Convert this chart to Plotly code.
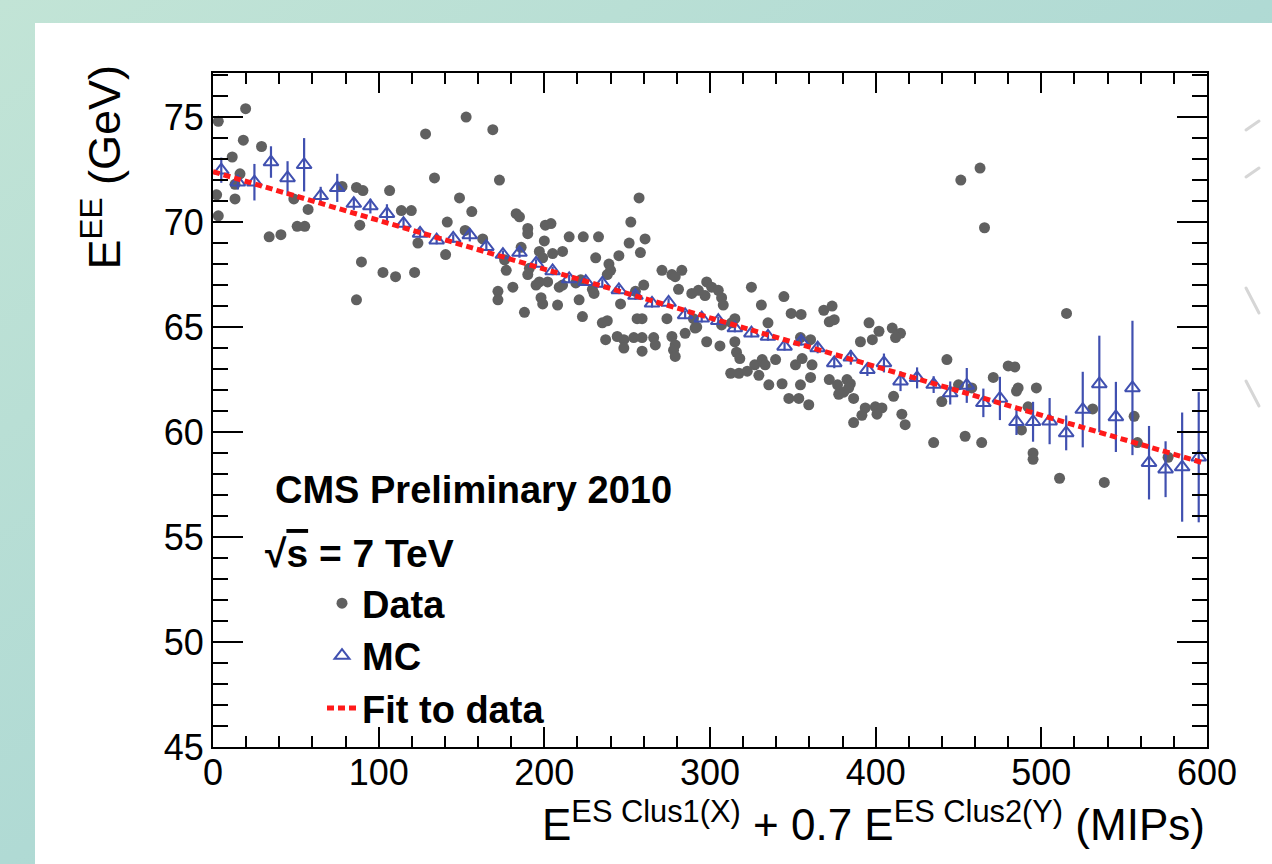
import base64
import plotly.graph_objects as go

# ---------------- data ----------------
data_x = [3.2, 19.7, 11.6, 18.3, 29.3, 2.2, 3.2, 13.3, 16.3, 13.3, 33.9, 41, 50.8, 55.4, 48.8, 57.4,
          77.9, 86.6, 90.5, 88.6, 89.6, 86.6,
          106.6, 102.6, 110.2, 121.7, 113.7, 119.7, 128.3, 133.7, 152.8, 168.9, 172.9, 140.4, 141.4,
          148.8, 156.2, 152.2, 162.8, 123.7, 181, 172, 172, 188, 183, 185, 190, 190, 176, 177, 186,
          191, 190, 195, 197, 198, 199,
          200.6, 204, 215, 223.5, 232.7, 257.2, 252.2, 260.8, 251.2, 258, 200, 197, 199, 211, 205,
          231, 245, 239, 240, 238, 202, 209, 211, 208, 221, 223, 229, 230, 219, 222, 246, 255, 260,
          256, 259, 235, 238, 237, 244, 248, 254, 259, 266, 248, 259, 267, 271, 277, 283, 281, 289,
          274, 277, 285, 279, 279, 278, 279, 292, 298, 301, 305, 307, 308, 297, 293, 298, 306, 291, 290,
          325, 327, 315, 313, 307, 344.6, 331, 349, 355, 368.7, 373.7, 372, 375, 396, 402, 398, 390.8,
          410, 415, 412, 335, 315, 316, 318, 354.6, 360.7, 331.5, 333.3, 339.6, 312.5, 317.5, 322.5,
          329.5, 335.5, 343.5, 351.6, 355.6, 361.6, 360.7, 354.6, 347.6, 353.6, 359.6, 372, 377, 380.7,
          382.7, 384.7, 383.7, 386.7, 377.7, 393.7, 391.7, 386.7, 399.8, 403.8, 400.8,
          415.8, 417.8, 410.8, 439.9, 443, 435, 454, 464, 450, 458, 471, 480, 484, 486, 485, 497, 492,
          488, 495, 495, 451.4, 463, 465.7,
          515.2, 511, 531, 538, 556, 558, 576.5]
data_y = [74.8, 75.4, 73.1, 73.9, 73.6, 71.3, 70.3, 71.1, 72.3, 71.8, 69.3, 69.4, 69.8, 69.8, 71.1, 70.6,
          71.7, 71.65, 71.5, 69.85, 68.1, 66.3,
          71.5, 67.6, 67.4, 67.6, 70.55, 70.55, 74.2, 72.1, 75.0, 74.4, 72.0, 68.45, 70.0,
          71.15, 70.5, 69.6, 69.2, 69.0, 66.9, 66.7, 66.3, 65.7, 70.4, 70.25, 69.7, 69.45, 68.2, 67.7, 68.8,
          67.8, 67.5, 67.0, 67.15, 66.4, 66.1,
          69.85, 69.93, 69.3, 69.3, 69.3, 71.15, 70.0, 69.2, 69.0, 68.55, 69.1, 68.6, 68.3, 68.6, 68.5,
          68.3, 68.4, 68.0, 67.7, 67.5, 67.15, 66.9, 67.0, 66.05, 66.3, 65.5, 66.8, 66.6, 67.1, 67.25, 66.1, 66.7, 67.0,
          65.4, 65.4, 65.2, 65.3, 64.4, 64.55, 64.4, 64.5, 64.5, 64.5, 64.0, 63.85, 64.15, 67.7, 67.5, 67.7, 66.8, 66.6,
          65.4, 64.55, 64.7, 64.15, 67.4, 63.9, 63.6, 65.0, 67.15, 66.9, 66.75, 66.4, 66.05, 66.5, 66.75, 64.3, 64.1, 64.95, 65.4,
          66.9, 63.2, 65.4, 65.2, 65.1, 66.45, 66.05, 65.65, 65.6, 65.8, 66.0, 65.25, 65.35, 65.2, 64.8, 64.4, 64.3,
          64.95, 64.7, 64.5, 65.2, 64.3, 63.8, 63.5, 64.5, 64.4, 63.45, 63.2, 63.45, 62.8, 62.8, 62.9,
          62.7, 62.25, 62.3, 63.2, 63.5, 63.2, 62.6, 62.25, 61.6, 61.6, 61.3, 62.5, 62.25, 61.9,
          62.5, 62.3, 62.1, 61.6, 61.8, 61.15, 60.8, 60.45, 61.2, 61.15, 60.85,
          60.85, 60.35, 61.7, 61.45, 63.45, 59.5, 59.8, 59.5, 62.25, 62.1, 62.6, 63.15, 63.1, 62.1, 61.95, 62.1, 61.2,
          60.1, 59.0, 58.7, 72.0, 72.57, 69.73,
          65.65, 57.8, 61.1, 57.6, 60.75, 59.5, 58.8]

mc_x = [5, 15, 25, 35, 45, 55, 65, 75, 85, 95, 105, 115, 125, 135, 145, 155, 165, 175, 185, 195,
        205, 215, 225, 235, 245, 255, 265, 275, 285, 295, 305, 315, 325, 335, 345, 355, 365, 375, 385, 395,
        405, 415, 425, 435, 445, 455, 465, 475, 485, 495, 505, 515, 525, 535, 545, 555, 565, 575, 585, 595]
mc_y = [72.47, 71.9, 71.9, 72.86, 72.1, 72.73, 71.25, 71.63, 70.88, 70.76, 70.4, 69.93, 69.46, 69.14, 69.22,
        69.38, 68.83, 68.45, 68.55, 68.03, 67.67, 67.29, 67.16, 67.08, 66.77, 66.5, 66.13, 66.17, 65.58, 65.42,
        65.30, 64.95, 64.71, 64.55, 64.08, 64.32, 64.0, 63.29, 63.56, 62.97, 63.29, 62.42, 62.58, 62.26, 61.86,
        62.22, 61.39, 61.6, 60.49, 60.49, 60.52, 59.96, 61.07, 62.29, 60.72, 62.1, 58.54, 58.23, 58.33, 58.8]
mc_err = [0.6, 0.35, 0.87, 0.75, 0.8, 1.27, 0.43, 0.67, 0.3, 0.35, 0.45, 0.25, 0.2, 0.2, 0.2,
          0.3, 0.2, 0.2, 0.25, 0.2, 0.2, 0.2, 0.2, 0.2, 0.2, 0.2, 0.2, 0.2, 0.2, 0.2,
          0.2, 0.2, 0.2, 0.2, 0.2, 0.2, 0.25, 0.25, 0.35, 0.3, 0.45, 0.47, 0.5, 0.4, 0.55,
          0.83, 0.68, 1.03, 0.63, 0.95, 1.1, 0.83, 1.8, 2.3, 1.67, 3.2, 1.75, 1.33, 2.6, 3.1]

fit_x = [0, 597]
fit_y = [72.4, 58.55]

x_ticks = [0, 100, 200, 300, 400, 500, 600]
y_ticks = [45, 50, 55, 60, 65, 70, 75]

FONT = "Liberation Sans, Arial, Helvetica, sans-serif"

# ---------------- background decoration (gradient + white panel) ----------------
svg = """<svg xmlns='http://www.w3.org/2000/svg' width='1272' height='864' viewBox='0 0 1272 864'>
<defs><linearGradient id='g' x1='0' y1='0' x2='1' y2='1'>
<stop offset='0' stop-color='#c2e4d6'/><stop offset='0.5' stop-color='#b0dad4'/><stop offset='1' stop-color='#a3d2d2'/>
</linearGradient></defs>
<rect x='0' y='0' width='1272' height='864' fill='url(#g)'/>
<rect x='35' y='23' width='1237' height='841' fill='#ffffff'/>
<g stroke='#d6d6d6' stroke-width='3' stroke-linecap='round'>
<line x1='1246' y1='130' x2='1259' y2='121'/>
<line x1='1246' y1='177' x2='1259' y2='168'/>
<line x1='1246' y1='288' x2='1259' y2='313'/>
<line x1='1246' y1='381' x2='1259' y2='406'/>
</g></svg>"""
bg_src = "data:image/svg+xml;base64," + base64.b64encode(svg.encode()).decode()

L, R, T, B = 213, 65, 73, 117
W, H = 1272, 864
PW, PH = W - L - R, H - T - B

fig = go.Figure()

fig.add_trace(go.Scatter(
    x=data_x, y=data_y, mode="markers", name="Data",
    marker=dict(symbol="circle", size=11, color="#606060"),
    legendgroup="a",
))
fig.add_trace(go.Scatter(
    x=mc_x, y=mc_y, mode="markers", name="MC",
    marker=dict(symbol="triangle-up-open", size=13, color="#4050b0", line=dict(width=2, color="#4050b0")),
    error_y=dict(type="data", array=mc_err, visible=True, color="#4050b0", thickness=2.2, width=0),
    legendgroup="b",
))
fig.add_trace(go.Scatter(
    x=fit_x, y=fit_y, mode="lines", name="Fit to data",
    line=dict(color="#ff1a1a", width=5, dash="7px,4px"),
    legendgroup="c",
))

axis_common = dict(
    showline=True, linewidth=2, linecolor="black", mirror="ticks",
    ticks="inside", tickwidth=2, tickcolor="black",
    showgrid=False, zeroline=False,
    tickfont=dict(family=FONT, size=36, color="black"),
)

fig.update_xaxes(
    range=[0, 600], tickmode="array", tickvals=x_ticks, ticktext=[str(v) for v in x_ticks],
    ticklen=20,
    minor=dict(dtick=20, tick0=0, ticklen=11, tickwidth=2, tickcolor="black", ticks="inside"),
    ticklabelstandoff=-7,
    **axis_common,
)
fig.update_yaxes(
    range=[45, 77.1], tickmode="array", tickvals=y_ticks, ticktext=[str(v) for v in y_ticks],
    ticklen=30,
    minor=dict(dtick=1, tick0=45, ticklen=15, tickwidth=2, tickcolor="black", ticks="inside"),
    ticklabelstandoff=0,
    **axis_common,
)

def px(xp):
    return (xp - L) / PW

def py(yp):
    return (H - B - yp) / PH

annotations = [
    dict(text="E<sup>ES Clus1(X)</sup> + 0.7 E<sup>ES Clus2(Y)</sup> (MIPs)",
         xref="paper", yref="paper", x=1.0, y=py(851), xanchor="right", yanchor="bottom",
         showarrow=False, font=dict(family=FONT, size=44, color="black")),
    dict(text="E<sup>EE</sup> (GeV)", textangle=-90,
         xref="paper", yref="paper", x=px(101), y=py(63), xanchor="center", yanchor="top",
         showarrow=False, font=dict(family=FONT, size=45, color="black")),
    dict(text="<b>CMS Preliminary 2010</b>",
         xref="paper", yref="paper", x=px(273), y=py(490), xanchor="left", yanchor="middle",
         showarrow=False, font=dict(family=FONT, size=38, color="black")),
    dict(text="<b>√<span style='text-decoration:overline'>s</span> = 7 TeV</b>",
         xref="paper", yref="paper", x=px(263), y=py(553), xanchor="left", yanchor="middle",
         showarrow=False, font=dict(family=FONT, size=39, color="black")),
]

fig.update_layout(
    width=W, height=H,
    margin=dict(l=L, r=R, t=T, b=B, pad=0),
    paper_bgcolor="#b5dcd4", plot_bgcolor="white",
    showlegend=True,
    legend=dict(
        x=px(322), y=py(572), xanchor="left", yanchor="top",
        bgcolor="rgba(0,0,0,0)", borderwidth=0,
        font=dict(family=FONT, size=38, color="black", weight="bold"),
        tracegroupgap=2, itemsizing="trace", traceorder="normal",
    ),
    annotations=annotations,
    images=[dict(source=bg_src, xref="paper", yref="paper",
                 x=-L / PW, y=1 + T / PH, sizex=W / PW, sizey=H / PH,
                 xanchor="left", yanchor="top", sizing="stretch", layer="below")],
)

fig.write_html("out.html")
